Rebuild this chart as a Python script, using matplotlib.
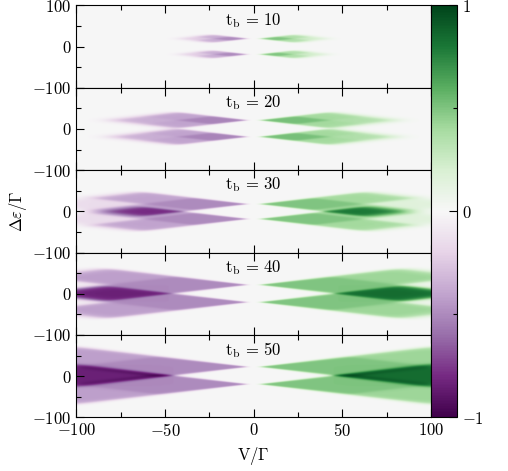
import numpy as np
import matplotlib.pyplot as plt
from matplotlib.ticker import MultipleLocator

plt.rcParams['font.family'] = 'serif'
plt.rcParams['font.serif'] = ['cmr10']
plt.rcParams['mathtext.fontset'] = 'cm'
plt.rcParams['axes.formatter.use_mathtext'] = True
plt.rcParams['font.size'] = 12

# panel parameters
t_b = [10, 20, 30, 40, 50]
tip_eps = [19, 20, 18, 21, 21]     # |delta eps| of the two resonance tips near V = 0
tip_v = [3, 3, 3, 3, 3]            # |V| where the tips start
# strength in the near part, the side arms and the far part of each diamond
amp_near = [0.50, 0.52, 0.50, 0.50, 0.50]
amp_arm = [0.36, 0.40, 0.40, 0.42, 0.42]
amp_far = [0.24, 0.36, 0.15, 0.04, 0.0]
xticks = [-100, -50, 0, 50, 100]
yticks = [-100, 0, 100]
cbar_ticks = [-1, 0, 1]

V = np.linspace(-100, 100, 801)
E = np.linspace(-100, 100, 401)
VV, EE = np.meshgrid(V, E)


def step(x, w):
    return 0.5 * (1 + np.tanh(x / w))


def panel_map(i):
    t, e0, v0 = t_b[i], tip_eps[i], tip_v[i]
    s = np.abs(VV) - v0
    soft = 1.2 + 0.03 * np.abs(VV)
    total = np.zeros_like(VV)
    for ec in (e0, -e0):
        d = EE - ec
        u = s / 2 + d
        w = s / 2 - d
        inside = step(u, soft) * step(w, soft) * step(2 * t - u, 1.5 * soft) * step(2 * t - w, 1.5 * soft)
        nu, nw = step(t - u, soft), step(t - w, soft)
        near = nu * nw
        far = (1 - nu) * (1 - nw)
        arm = 1 - near - far
        total += inside * (amp_near[i] * near + amp_arm[i] * arm + amp_far[i] * far)
    return np.sign(VV) * np.clip(total, 0, 1)


fig = plt.figure(figsize=(5.08, 4.71), dpi=100)
left, width = 76.3 / 508, (431 - 76.3) / 508
bottom, ph = 0.114, 82.4 / 471

axes = []
for i, t in enumerate(t_b):
    ax = fig.add_axes([left, bottom + (4 - i) * ph, width, ph])
    im = ax.imshow(panel_map(i), extent=[-100, 100, -100, 100],
                   origin='lower', aspect='auto', cmap='PRGn', vmin=-1, vmax=1,
                   interpolation='bilinear')
    ax.set_xlim(-100, 100)
    ax.set_ylim(-100, 100)
    ax.set_xticks(xticks)
    ax.xaxis.set_minor_locator(MultipleLocator(25))
    ax.set_yticks(yticks)
    ax.yaxis.set_minor_locator(MultipleLocator(50))
    ax.set_yticklabels(['$-100$', '$0$', '$100$' if i == 0 else ''])
    if i < 4:
        ax.set_xticklabels([])
    ax.tick_params(which='both', direction='in', top=True, right=False)
    ax.tick_params(which='major', length=6, width=0.8)
    ax.tick_params(which='minor', length=3.5, width=0.8)
    ax.text(0.5, 0.82, r'$\mathrm{t_b\,=\,%d}$' % t, transform=ax.transAxes,
            ha='center', va='center', fontsize=12)
    axes.append(ax)

axes[-1].set_xlabel(r'$\mathrm{V/\Gamma}$', fontsize=12, labelpad=4)
fig.text(0.035, bottom + 2.5 * ph, r'$\Delta\varepsilon/\Gamma$', rotation=90,
         ha='center', va='center', fontsize=12)

cax = fig.add_axes([431 / 508, bottom, (456.7 - 431) / 508, 5 * ph])
cb = fig.colorbar(im, cax=cax, ticks=cbar_ticks)
cb.ax.yaxis.set_minor_locator(MultipleLocator(0.5))
cb.ax.tick_params(which='both', direction='in')
cb.ax.tick_params(which='major', length=6, width=0.8)
cb.ax.tick_params(which='minor', length=3, width=0.8)
cb.outline.set_linewidth(0.8)

fig.savefig('out.png', dpi=100)
